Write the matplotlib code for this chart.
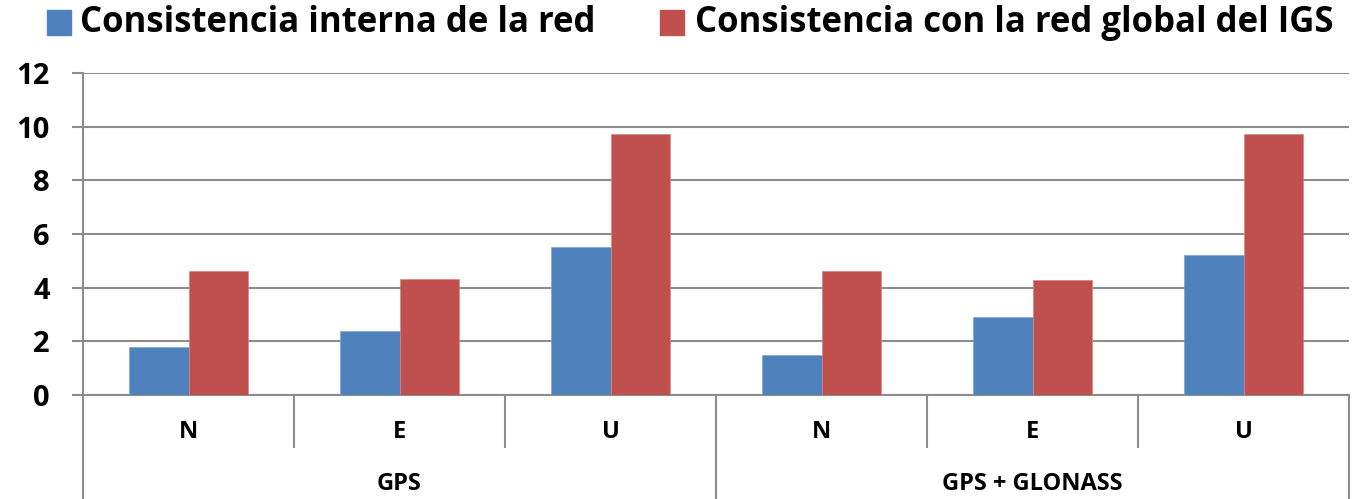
import matplotlib
matplotlib.use("Agg")
import matplotlib.pyplot as plt
import matplotlib.patches as mpatches
import numpy as np

# data
systems = ["GPS", "GPS + GLONASS"]
components = ["N", "E", "U"]
interna = [1.8, 2.4, 5.5, 1.5, 2.9, 5.2]
global_igs = [4.63, 4.32, 9.74, 4.62, 4.30, 9.72]
labels = ["Consistencia interna de la red", "Consistencia con la red global del IGS"]
yticks = [0, 2, 4, 6, 8, 10, 12]

blue = "#4F81BD"
red = "#C0504D"
grey = "#8C8C8C"

plt.rcParams["font.family"] = ["Open Sans", "DejaVu Sans"]
plt.rcParams["font.weight"] = "bold"

W, H = 1356, 499
fig = plt.figure(figsize=(W / 100, H / 100), dpi=100)
ax = fig.add_axes([83 / W, 1 - 395 / H, (1349 - 83) / W, (395 - 73) / H])

x = np.arange(len(interna))
w = 0.284
ax.bar(x - w / 2, interna, w, color=blue, edgecolor="#7FA3D0", linewidth=0.5, zorder=3)
ax.bar(x + w / 2, global_igs, w, color=red, edgecolor="#D98584", linewidth=0.5, zorder=3)

ax.set_xlim(-0.5, len(interna) - 0.5)
ax.set_ylim(0, 12)
ax.set_yticks(yticks)
ax.set_yticklabels([str(t) for t in yticks], fontsize=21, fontweight="bold")
ax.tick_params(axis="y", length=8, width=1.5, color=grey, pad=16)
ax.set_xticks([])
ax.grid(axis="y", color=grey, linewidth=1.5, zorder=0)
for s in ["top", "right"]:
    ax.spines[s].set_visible(False)
for s in ["left", "bottom"]:
    ax.spines[s].set_color(grey)
    ax.spines[s].set_linewidth(1.5)

# two-level category axis
inner_y = -52 / 322
outer_y = -104 / 322
n = len(components)
for i in range(len(interna) + 1):
    xa = i / len(interna)
    bottom = outer_y if i % n == 0 else inner_y
    ax.plot([xa, xa], [0, bottom], transform=ax.transAxes, color=grey,
            linewidth=1.5, clip_on=False)
for i in range(len(interna)):
    ax.text((i + 0.5) / len(interna), -37 / 322, components[i % n],
            transform=ax.transAxes, ha="center", va="center",
            fontsize=17, fontweight="bold")
for j, name in enumerate(systems):
    ax.text((j + 0.5) / len(systems), -89 / 322, name,
            transform=ax.transAxes, ha="center", va="center",
            fontsize=17, fontweight="bold")

# legend drawn by hand to match the placement
for (sq_x, tx_x), color, lab in zip([(47, 80), (660, 695)], [blue, red], labels):
    fig.patches.append(mpatches.Rectangle((sq_x / W, 1 - 35 / H), 24 / W, 25 / H,
                                          transform=fig.transFigure, color=color))
    fig.text(tx_x / W, 1 - 23 / H, lab, ha="left", va="center",
             fontsize=25, fontweight="bold")

fig.savefig("out.png", dpi=100)
